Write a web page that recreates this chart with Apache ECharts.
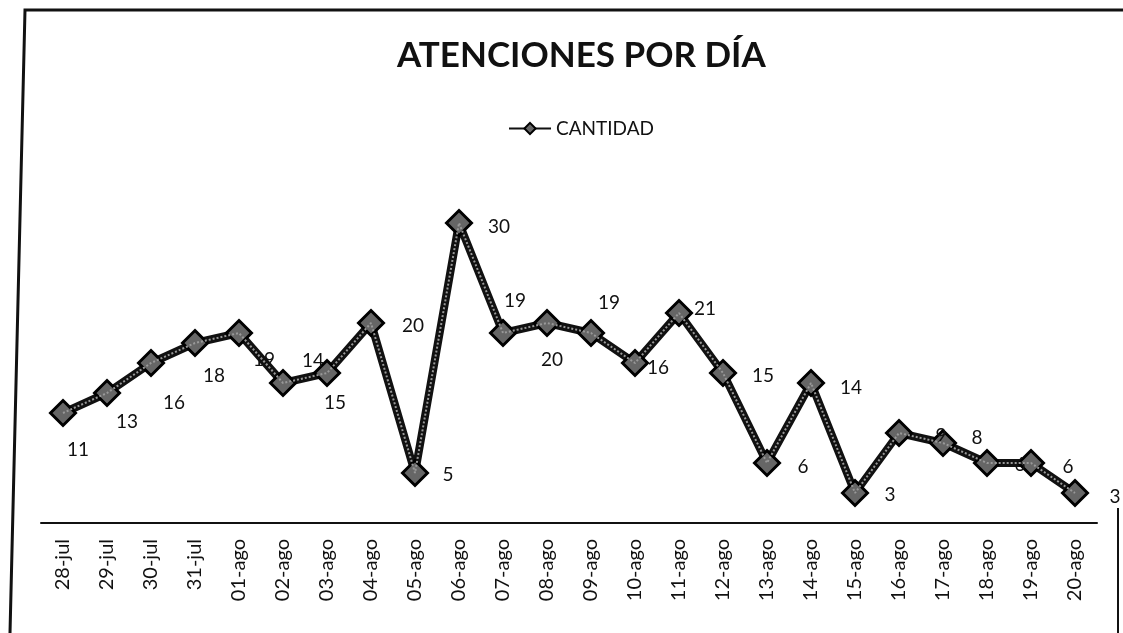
<!DOCTYPE html>
<html lang="es">
<head>
    <meta charset="UTF-8">
    <title>Atenciones por día</title>
    <style>
        html, body { margin: 0; padding: 0; background: #fff; }
    </style>
</head>
<body>
<div id="main" style="width: 1123px; height: 633px;"></div>

<script src="https://cdn.jsdelivr.net/npm/echarts@6/dist/echarts.min.js"></script>

<script>
// datos
var dias = ['28-jul', '29-jul', '30-jul', '31-jul', '01-ago', '02-ago', '03-ago', '04-ago',
    '05-ago', '06-ago', '07-ago', '08-ago', '09-ago', '10-ago', '11-ago', '12-ago',
    '13-ago', '14-ago', '15-ago', '16-ago', '17-ago', '18-ago', '19-ago', '20-ago'];
var cantidad = [11, 13, 16, 18, 19, 14, 15, 20, 5, 30, 19, 20, 19, 16, 21, 15, 6, 14, 3, 9, 8, 6, 6, 3];

// desplazamiento de cada etiqueta respecto al marcador (como quedo en Excel)
var desplaz = [[15, 37], [20, 29], [23, 40], [19, 33], [25, 27], [30, -22], [8, 30], [42, 3],
    [33, 2], [40, 4], [12, -32], [5, 37], [18, -30], [23, 5], [26, -4], [40, 3],
    [36, 4], [40, 5], [35, 2], [42, 3], [34, -5], [33, 2], [37, 4], [40, 4]];

var fuente = 'Lato, "Open Sans", sans-serif';

var puntos = cantidad.map(function (v, i) {
    return {
        value: v,
        label: {offset: desplaz[i]}
    };
});

var myChart = echarts.init(document.getElementById('main'));

myChart.setOption({
    animation: false,
    backgroundColor: '#fff',
    title: {
        text: 'ATENCIONES POR DÍA',
        left: 392,
        top: 33,
        textStyle: {
            fontFamily: fuente,
            fontWeight: 'bold',
            fontSize: 35,
            color: '#111'
        }
    },
    legend: {
        data: ['CANTIDAD'],
        left: 503,
        top: 114,
        itemWidth: 42,
        itemHeight: 14,
        itemGap: 4,
        textStyle: {
            fontFamily: fuente,
            fontSize: 19,
            color: '#111'
        }
    },
    grid: {
        left: 41,
        right: 26,
        top: 173,
        bottom: 110
    },
    xAxis: {
        type: 'category',
        data: dias,
        axisLine: {lineStyle: {color: '#111', width: 2}},
        axisTick: {show: false},
        axisLabel: {
            rotate: 90,
            margin: 16,
            interval: 0,
            fontFamily: fuente,
            fontSize: 20,
            color: '#111'
        }
    },
    yAxis: {
        type: 'value',
        min: 0,
        max: 35,
        show: false,
        splitLine: {show: false}
    },
    graphic: [
        // marco del grafico escaneado
        {type: 'polyline', shape: {points: [[1123, 10], [25, 10], [10, 633]]},
            style: {stroke: '#111', lineWidth: 3, fill: null}},
        {type: 'line', shape: {x1: 1118, y1: 508, x2: 1118, y2: 633},
            style: {stroke: '#111', lineWidth: 2}}
    ],
    series: [
        {
            name: 'CANTIDAD',
            type: 'line',
            data: puntos,
            symbol: 'diamond',
            symbolSize: 25,
            lineStyle: {color: '#111', width: 8},
            itemStyle: {color: '#666', borderColor: '#000', borderWidth: 3},
            label: {
                show: true,
                position: 'inside',
                fontFamily: fuente,
                fontSize: 19,
                color: '#111'
            },
            z: 2
        },
        {
            name: 'textura',
            type: 'line',
            data: cantidad,
            symbol: 'none',
            silent: true,
            lineStyle: {color: '#999', width: 2, type: 'dotted'},
            z: 3
        }
    ]
});
</script>
</body>
</html>
